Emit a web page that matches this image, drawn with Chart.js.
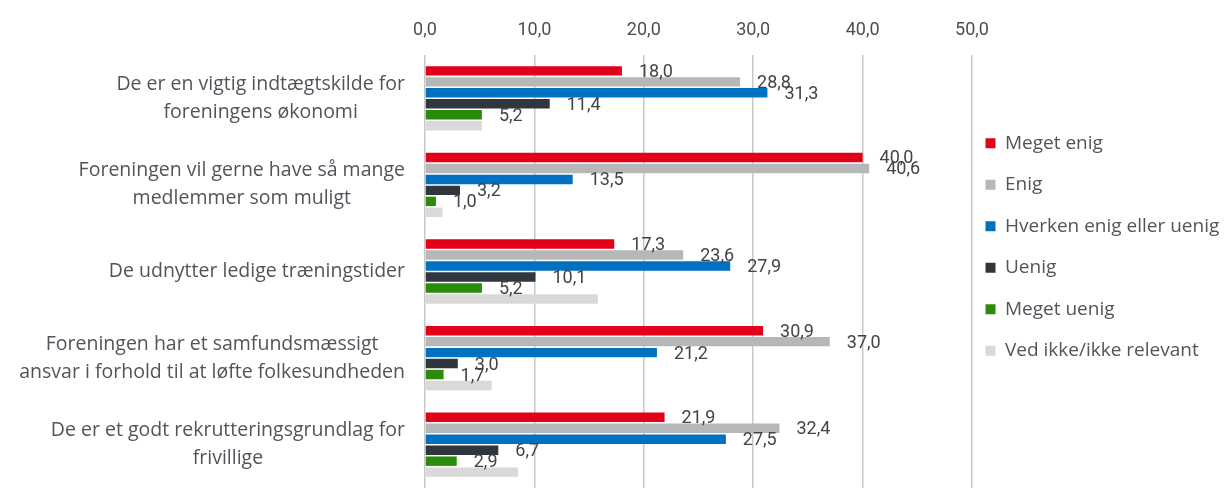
<!DOCTYPE html>
<html>
<head>
<meta charset="utf-8">
<script src="https://cdn.jsdelivr.net/npm/chart.js@4.4.1/dist/chart.umd.min.js"></script>
<style>
  html, body { margin: 0; padding: 0; background: #ffffff; }
  #wrap { width: 1228px; height: 488px; }
</style>
</head>
<body>
<div id="wrap"><canvas id="c" width="1228" height="488"></canvas></div>
<script>
const categories = [
  ["De er en vigtig indtægtskilde for", "foreningens økonomi"],
  ["Foreningen vil gerne have så mange", "medlemmer som muligt"],
  ["De udnytter ledige træningstider"],
  ["Foreningen har et samfundsmæssigt", "ansvar i forhold til at løfte folkesundheden"],
  ["De er et godt rekrutteringsgrundlag for", "frivillige"]
];
const seriesNames = ["Meget enig", "Enig", "Hverken enig eller uenig", "Uenig", "Meget uenig", "Ved ikke/ikke relevant"];
const megetEnig  = [18.0, 40.0, 17.3, 30.9, 21.9];
const enig       = [28.8, 40.6, 23.6, 37.0, 32.4];
const hverken    = [31.3, 13.5, 27.9, 21.2, 27.5];
const uenig      = [11.4, 3.2, 10.1, 3.0, 6.7];
const megetUenig = [5.2, 1.0, 5.2, 1.7, 2.9];
const vedIkke    = [5.2, 1.6, 15.8, 6.1, 8.5];
const xTicks = [0, 10, 20, 30, 40, 50];

const colors = ["#e2001a", "#b5b7b9", "#0070c0", "#2f363d", "#2a8a0a", "#d9d9d9"];
const showLabels = [true, true, true, true, true, false];
const seriesValues = [megetEnig, enig, hverken, uenig, megetUenig, vedIkke];

const NUMFONT = "Roboto";
const TXTFONT = "'Open Sans'";
const TEXT = "#50555b";
const NUMTEXT = "#404448";

const fmt = v => v.toFixed(1).replace(".", ",");

const valueLabels = {
  id: "valueLabels",
  afterDatasetsDraw(chart) {
    const ctx = chart.ctx;
    ctx.save();
    ctx.font = "18px " + NUMFONT;
    ctx.fillStyle = NUMTEXT;
    ctx.textAlign = "left";
    ctx.textBaseline = "middle";
    chart.data.datasets.forEach((ds, di) => {
      if (!showLabels[di]) return;
      const meta = chart.getDatasetMeta(di);
      meta.data.forEach((el, i) => {
        ctx.fillText(fmt(ds.data[i]), el.x + 17, el.y + 1.5);
      });
    });
    ctx.restore();
  }
};

const categoryLabels = {
  id: "categoryLabels",
  afterDraw(chart) {
    const ctx = chart.ctx;
    const ys = chart.scales.y;
    ctx.save();
    ctx.font = "19.5px " + TXTFONT;
    ctx.fillStyle = TEXT;
    ctx.textAlign = "center";
    ctx.textBaseline = "middle";
    const right = chart.chartArea.left - 20;
    const lh = 28;
    categories.forEach((lines, i) => {
      const cy = ys.getPixelForValue(i);
      const w = Math.max(...lines.map(l => ctx.measureText(l).width));
      const cx = right - w / 2;
      const y0 = cy - (lines.length - 1) * lh / 2;
      lines.forEach((l, k) => ctx.fillText(l, cx, y0 + k * lh));
    });
    ctx.restore();
  }
};

const legendLayout = {
  id: "legendLayout",
  afterInit(chart) {
    const lg = chart.legend;
    const orig = lg.fit.bind(lg);
    lg.fit = function () { orig(); this.width = 256; };
  },
  afterLayout(chart) {
    const lg = chart.legend;
    lg.left -= 9; lg.right -= 9;
    lg.top += 3; lg.bottom += 3;
  }
};

new Chart(document.getElementById("c"), {
  type: "bar",
  data: {
    labels: categories.map(c => c.join(" ")),
    datasets: seriesNames.map((name, i) => ({
      label: name,
      data: seriesValues[i],
      backgroundColor: colors[i],
      borderWidth: 0,
      barPercentage: 0.86,
      categoryPercentage: 0.76
    }))
  },
  options: {
    indexAxis: "y",
    responsive: false,
    animation: false,
    layout: { padding: { left: 0, right: 0, top: 0, bottom: 0 } },
    scales: {
      x: {
        position: "top",
        min: 0,
        max: 50,
        afterBuildTicks(scale) { scale.ticks = xTicks.map(v => ({ value: v })); },
        afterFit(scale) { scale.height = 55; },
        ticks: {
          callback: v => fmt(v),
          font: { family: NUMFONT, size: 18 },
          color: "#4a4f55",
          padding: 14
        },
        grid: { color: "#c8c8c8", lineWidth: 1.5, drawTicks: false },
        border: { display: false }
      },
      y: {
        afterFit(scale) { scale.width = 425; },
        ticks: { display: false },
        grid: { display: false },
        border: { display: false }
      }
    },
    plugins: {
      legend: {
        position: "right",
        align: "center",
        labels: {
          boxWidth: 10,
          boxHeight: 10,
          padding: 22.5,
          color: TEXT,
          font: { family: TXTFONT, size: 19 }
        }
      },
      tooltip: { enabled: false }
    }
  },
  plugins: [valueLabels, categoryLabels, legendLayout]
});
</script>
</body>
</html>
